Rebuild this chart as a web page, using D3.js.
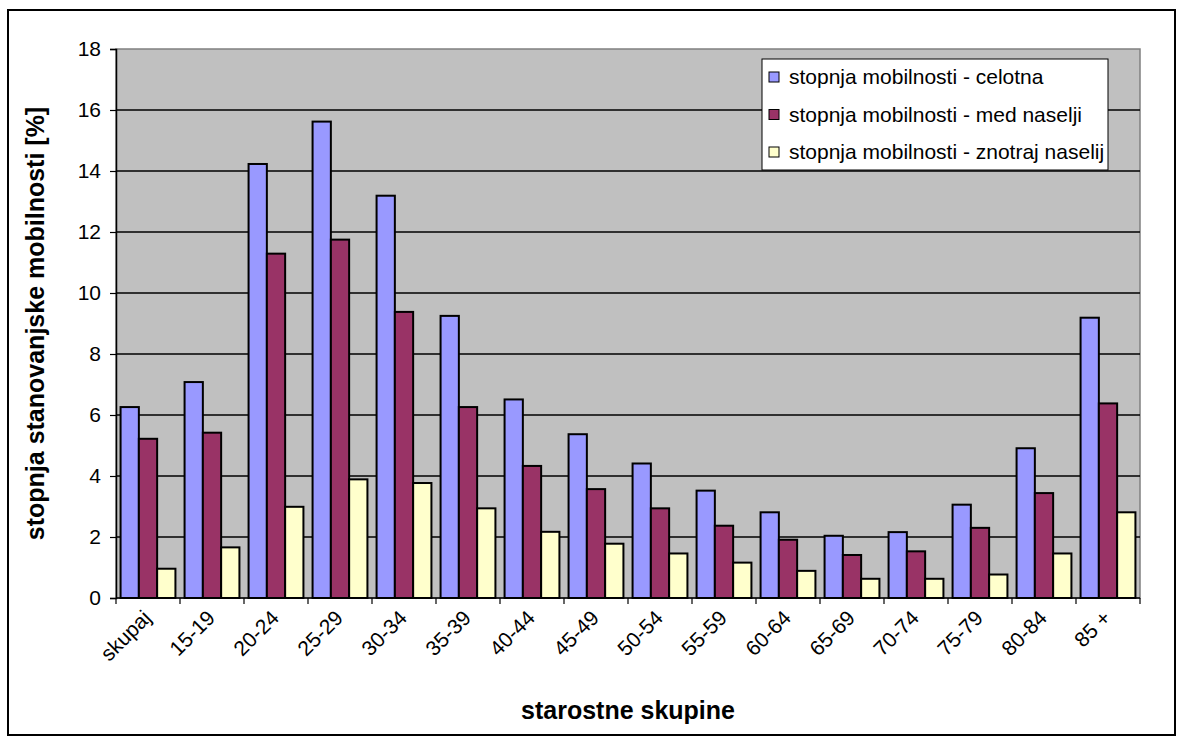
<!DOCTYPE html>
<html>
<head>
<meta charset="utf-8">
<script src="https://cdn.jsdelivr.net/npm/d3@7"></script>
<style>
  html, body { margin: 0; padding: 0; background: #fff; }
  svg { display: block; font-family: "Liberation Sans", Arial, sans-serif; }
</style>
</head>
<body>
<svg id="chart" width="1184" height="744"></svg>
<script>
// Age groups and mobility rates (%)
const categories = ["skupaj", "15-19", "20-24", "25-29", "30-34", "35-39", "40-44", "45-49",
                    "50-54", "55-59", "60-64", "65-69", "70-74", "75-79", "80-84", "85 +"];
const seriesNames = ["stopnja mobilnosti - celotna",
                     "stopnja mobilnosti - med naselji",
                     "stopnja mobilnosti - znotraj naselij"];
const celotna   = [6.26, 7.08, 14.23, 15.62, 13.19, 9.25, 6.51, 5.37, 4.41, 3.52, 2.81, 2.04, 2.16, 3.06, 4.91, 9.19];
const medNaselji = [5.22, 5.42, 11.29, 11.75, 9.38, 6.26, 4.33, 3.57, 2.94, 2.37, 1.91, 1.41, 1.53, 2.30, 3.44, 6.38];
const znotraj   = [0.96, 1.66, 2.99, 3.89, 3.77, 2.94, 2.17, 1.78, 1.46, 1.16, 0.89, 0.63, 0.63, 0.77, 1.46, 2.81];
const yTicks = [0, 2, 4, 6, 8, 10, 12, 14, 16, 18];
const colors = ["#9999FF", "#993366", "#FFFFCC"];

const seriesValues = [celotna, medNaselji, znotraj];
const svg = d3.select("#chart");

// outer frame
svg.append("rect").attr("x", 8).attr("y", 10).attr("width", 1167).attr("height", 725)
  .attr("fill", "#fff").attr("stroke", "#000").attr("stroke-width", 2);

const plot = { left: 116, right: 1140, top: 49, bottom: 598 };

const x = d3.scaleBand().domain(categories).range([plot.left, plot.right])
  .paddingInner(0).paddingOuter(0);
const inner = d3.scaleBand().domain(d3.range(seriesNames.length))
  .range([0, x.bandwidth()]).paddingInner(0).paddingOuter(0.25);
const y = d3.scaleLinear().domain([0, 18]).range([plot.bottom, plot.top]);

// plot background
svg.append("rect").attr("x", plot.left).attr("y", plot.top)
  .attr("width", plot.right - plot.left).attr("height", plot.bottom - plot.top)
  .attr("fill", "#C0C0C0").attr("stroke", "#808080").attr("stroke-width", 1.5);

// gridlines
svg.append("g").selectAll("line").data(yTicks.filter(d => d > 0 && d < 18)).join("line")
  .attr("x1", plot.left).attr("x2", plot.right)
  .attr("y1", d => y(d)).attr("y2", d => y(d))
  .attr("stroke", "#000").attr("stroke-width", 1.3);

// bars
const groups = svg.append("g").selectAll("g").data(categories).join("g")
  .attr("transform", d => `translate(${x(d)},0)`);
groups.selectAll("rect").data((c, i) => seriesValues.map((vals, s) => ({ s, v: vals[i] }))).join("rect")
  .attr("x", d => inner(d.s))
  .attr("width", inner.bandwidth())
  .attr("y", d => y(d.v))
  .attr("height", d => y(0) - y(d.v))
  .attr("fill", d => colors[d.s])
  .attr("stroke", "#000").attr("stroke-width", 2);

// y axis
const yAxis = d3.axisLeft(y).tickValues(yTicks).tickSize(6).tickPadding(9).tickFormat(d3.format("d"));
const yg = svg.append("g").attr("transform", `translate(${plot.left},0)`).call(yAxis);
yg.select(".domain").attr("stroke", "#000").attr("stroke-width", 1.5);
yg.selectAll(".tick line").attr("stroke", "#000").attr("stroke-width", 1.2);
yg.selectAll(".tick text").attr("font-size", 21).attr("fill", "#000")
  .attr("font-family", "Liberation Sans, Arial, sans-serif");

// x axis: ticks at category boundaries
const xg = svg.append("g").attr("transform", `translate(0,${plot.bottom})`);
xg.append("line").attr("x1", plot.left).attr("x2", plot.right).attr("y1", 0).attr("y2", 0)
  .attr("stroke", "#000").attr("stroke-width", 1.5);
const boundaries = categories.map(c => x(c)).concat([x(categories[categories.length - 1]) + x.bandwidth()]);
xg.selectAll("line.tk").data(boundaries).join("line").attr("class", "tk")
  .attr("x1", d => d).attr("x2", d => d).attr("y1", 0).attr("y2", 6)
  .attr("stroke", "#000").attr("stroke-width", 1.2);
xg.selectAll("text").data(categories).join("text")
  .attr("transform", d => `translate(${x(d) + x.bandwidth() / 2 - 1},${16}) rotate(-45)`)
  .attr("text-anchor", "end")
  .attr("dy", "0.35em")
  .attr("font-size", 21).attr("fill", "#000")
  .text(d => d);

// axis titles
svg.append("text")
  .attr("transform", `translate(44,${(plot.top + plot.bottom) / 2}) rotate(-90)`)
  .attr("text-anchor", "middle").attr("font-size", 25).attr("font-weight", "bold")
  .text("stopnja stanovanjske mobilnosti [%]");
svg.append("text")
  .attr("x", (plot.left + plot.right) / 2).attr("y", 719)
  .attr("text-anchor", "middle").attr("font-size", 25).attr("font-weight", "bold")
  .text("starostne skupine");

// legend
const legend = svg.append("g").attr("transform", "translate(762,59)");
legend.append("rect").attr("width", 346).attr("height", 111)
  .attr("fill", "#fff").attr("stroke", "#000").attr("stroke-width", 1);
const rows = legend.selectAll("g").data(seriesNames).join("g")
  .attr("transform", (d, i) => `translate(7,${18 + i * 37.5})`);
rows.append("rect").attr("x", 0).attr("y", -5).attr("width", 10).attr("height", 10)
  .attr("fill", (d, i) => colors[i]).attr("stroke", "#000").attr("stroke-width", 1);
rows.append("text").attr("x", 20).attr("dy", "0.35em").attr("font-size", 21).text(d => d);
</script>
</body>
</html>
